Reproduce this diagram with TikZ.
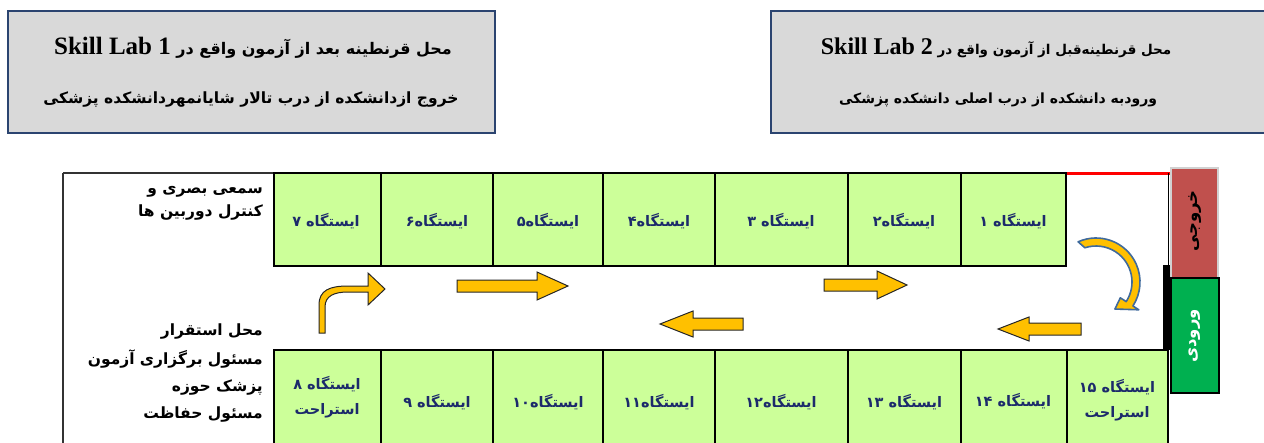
\documentclass[tikz,border=0pt]{standalone}
\usepackage{fontspec}
\usetikzlibrary{calc}
\TeXXeTstate=1
\newfontfamily\arabicfont[Script=Arabic]{DejaVu Sans}
\newfontfamily\latinserif{Liberation Serif}
\definecolor{boxgray}{HTML}{D9D9D9}
\definecolor{boxline}{HTML}{2B4470}
\definecolor{cellgreen}{HTML}{CCFF99}
\definecolor{navy}{HTML}{1C2A6B}
\definecolor{arrowyellow}{HTML}{FFC000}
\definecolor{exitred}{HTML}{C0504D}
\definecolor{entrygreen}{HTML}{00B050}
\definecolor{arcblue}{HTML}{3F6A9C}
\newcommand{\skl}[2]{{\latinserif\bfseries\fontsize{#1}{26}\selectfont #2}}
\begin{document}
\begin{tikzpicture}[x=1pt,y=-1pt,
  infobox/.style={draw=boxline, line width=1.6pt, fill=boxgray},
  infotext/.style={font=\arabicfont\bfseries\fontsize{16}{18}\selectfont, text=black, inner sep=0pt},
  cell/.style={draw=black, line width=1.1pt, fill=cellgreen},
  celltext/.style={font=\arabicfont\bfseries\fontsize{14.5}{25}\selectfont, text=navy, align=center, inner sep=0pt},
  sidetext/.style={font=\arabicfont\bfseries\fontsize{15.5}{17}\selectfont, text=black, anchor=east, inner sep=0pt},
  wall/.style={draw=black!80, line width=1.1pt},
  blockarrow/.style={fill=arrowyellow, draw=black!85, line width=1pt, line join=miter},
  curvearrow/.style={fill=arrowyellow, draw=arcblue, line width=1.6pt, line join=round},
  doortext/.style={font=\arabicfont\bfseries\fontsize{16.5}{18}\selectfont, rotate=90, inner sep=0pt}
]
\useasboundingbox (0,0) rectangle (1264,442);
\clip (0,0) rectangle (1264,442);

% info boxes
\draw[infobox] (8,11) rectangle (495,133);
\draw[infobox] (771,11) rectangle (1275,133);
\node[infotext] (l1) at (253,48) {\beginR محل قرنطینه بعد از آزمون واقع در \beginL\skl{25}{Skill Lab 1}\endL\endR};
\node[infotext, font=\arabicfont\bfseries\fontsize{15.5}{18}\selectfont] (l2) at (251,100) {\beginR خروج ازدانشکده از درب تالار شایانمهردانشکده پزشکی\endR};
\node[infotext, font=\arabicfont\bfseries\fontsize{13.5}{18}\selectfont] (r1) at (996,48) {\beginR محل قرنطینه‌قبل از آزمون واقع در \beginL\skl{24}{Skill Lab 2}\endL\endR};
\node[infotext, font=\arabicfont\bfseries\fontsize{14}{18}\selectfont] (r2) at (998,100) {\beginR ورودبه دانشکده از درب اصلی دانشکده پزشکی\endR};

% walls
\draw[wall] (63,173) -- (63,460);
\draw[wall] (63,173) -- (1066,173);
\draw[red, line width=3pt] (1065,173) -- (1170,173);
\draw[black, line width=1pt] (1168,173) -- (1168,268);
\fill[black] (1163,265) rectangle (1170,350);

% top row cells
\draw[cell] (274,173) rectangle (381,266);
\draw[cell] (381,173) rectangle (493,266);
\draw[cell] (493,173) rectangle (603,266);
\draw[cell] (603,173) rectangle (715,266);
\draw[cell] (715,173) rectangle (848,266);
\draw[cell] (848,173) rectangle (961,266);
\draw[cell] (961,173) rectangle (1066,266);
% bottom row cells
\draw[cell] (274,350) rectangle (381,460);
\draw[cell] (381,350) rectangle (493,460);
\draw[cell] (493,350) rectangle (603,460);
\draw[cell] (603,350) rectangle (715,460);
\draw[cell] (715,350) rectangle (848,460);
\draw[cell] (848,350) rectangle (961,460);
\draw[cell] (961,350) rectangle (1067,460);
\draw[cell] (1067,350) rectangle (1168,460);

% top row labels
\node[celltext] (s7) at (326,221) {\beginR ایستگاه ۷\endR};
\node[celltext] (s6) at (437,221) {\beginR ایستگاه۶\endR};
\node[celltext] (s5) at (548,221) {\beginR ایستگاه۵\endR};
\node[celltext] (s4) at (659,221) {\beginR ایستگاه۴\endR};
\node[celltext] (s3) at (781,221) {\beginR ایستگاه ۳\endR};
\node[celltext] (s2) at (904,221) {\beginR ایستگاه۲\endR};
\node[celltext] (s1) at (1013,221) {\beginR ایستگاه ۱\endR};
% bottom row labels
\node[celltext] (s8) at (327,397) {\beginR ایستگاه ۸\endR\\\beginR استراحت\endR};
\node[celltext] (s9) at (437,402) {\beginR ایستگاه ۹\endR};
\node[celltext] (s10) at (548,402) {\beginR ایستگاه۱۰\endR};
\node[celltext] (s11) at (659,402) {\beginR ایستگاه۱۱\endR};
\node[celltext] (s12) at (781,402) {\beginR ایستگاه۱۲\endR};
\node[celltext] (s13) at (904,402) {\beginR ایستگاه ۱۳\endR};
\node[celltext] (s14) at (1013,401) {\beginR ایستگاه ۱۴\endR};
\node[celltext] (s15) at (1117,400) {\beginR ایستگاه ۱۵\endR\\\beginR استراحت\endR};

% side texts
\node[sidetext] (t1) at (263,192) {\beginR سمعی بصری و\endR};
\node[sidetext] (t2) at (263,213) {\beginR کنترل دوربین ها\endR};
\node[sidetext] (t3) at (263,331) {\beginR محل استقرار\endR};
\node[sidetext] (t4) at (263,359) {\beginR مسئول برگزاری آزمون\endR};
\node[sidetext] (t5) at (263,387) {\beginR پزشک حوزه\endR};
\node[sidetext] (t6) at (263,414) {\beginR مسئول حفاظت\endR};

% exit / entry
\draw[fill=exitred, draw=black!18, line width=2pt] (1171,168) rectangle (1218,278);
\node[doortext, text=black] (exit) at (1195,221) {\beginR خروجی\endR};
\draw[fill=entrygreen, draw=black, line width=1.4pt] (1171,278) rectangle (1219,393);
\node[doortext, text=white] (entry) at (1195,336) {\beginR ورودی\endR};

% straight block arrows
\draw[blockarrow] (457,280) -- (537,280) -- (537,272) -- (568,286) -- (537,300) -- (537,292) -- (457,292) -- cycle;
\draw[blockarrow] (824,279) -- (877,279) -- (877,271) -- (907,285) -- (877,299) -- (877,291) -- (824,291) -- cycle;
\draw[blockarrow] (743,318) -- (693,318) -- (693,311) -- (660,324) -- (693,337) -- (693,330) -- (743,330) -- cycle;
\draw[blockarrow] (1081,323) -- (1029,323) -- (1029,317) -- (998,329) -- (1029,341) -- (1029,335) -- (1081,335) -- cycle;

% bent arrow
\draw[blockarrow] (319,333) -- (319,305) .. controls (319,290) and (330,286) .. (348,286)
  -- (368,286) -- (368,273) -- (385,289) -- (368,305) -- (368,292) -- (348,292)
  .. controls (334,292) and (325,296) .. (325,307) -- (325,333) -- cycle;

% circular arrow
\coordinate (cc) at (1096,282);
\draw[curvearrow] ($(cc)+(-114:44)$) arc[start angle=-114, end angle=33, radius=44]
  -- ($(cc)+(33:51)$) -- ($(cc)+(55:33)$) -- ($(cc)+(33:29)$) -- ($(cc)+(33:36)$)
  arc[start angle=33, end angle=-108, radius=36] -- cycle;
\end{tikzpicture}
\end{document}
